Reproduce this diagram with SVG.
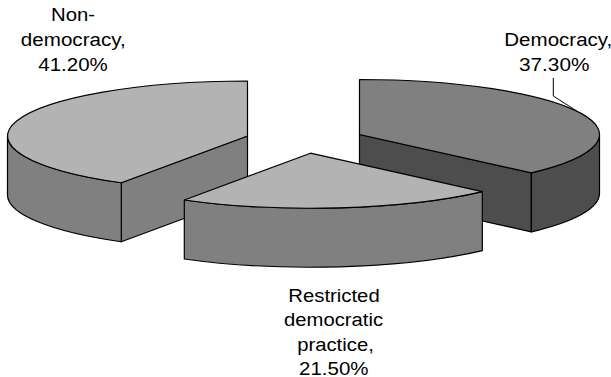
<svg xmlns="http://www.w3.org/2000/svg" width="611" height="377" viewBox="0 0 611 377">
  <style>
    .edge { stroke: #000; stroke-width: 1.2; stroke-linejoin: round; }
    .light { fill: #b3b3b3; }
    .mid { fill: #808080; }
    .dark { fill: #4d4d4d; }
    .lbl { font-family: "Liberation Sans", Arial, Helvetica, sans-serif; font-size: 18.8px; fill: #000; text-anchor: middle; }
    .leader { fill: none; stroke: #000; stroke-width: 1; }
  </style>
  <rect width="611" height="377" fill="#fff"/>

  <!-- Non-democracy slice: 41.2% (211.7deg .. 360deg) -->
  <g id="slice-nondemocracy">
    <path class="edge mid" d="M247.5,136 L121.31,182.78 L121.31,241.78 L247.5,195 Z"/>
    <path class="edge mid" d="M121.31,182.78 A240,55 0 0 1 7.5,136 L7.5,195 A240,55 0 0 0 121.31,241.78 Z"/>
    <path class="edge light" d="M247.5,136 L121.31,182.78 A240,55 0 0 1 247.5,81 Z"/>
    <text class="lbl" x="73" y="20.7" textLength="44" lengthAdjust="spacingAndGlyphs">Non-</text>
    <text class="lbl" x="73.3" y="45.7" textLength="104.9" lengthAdjust="spacingAndGlyphs">democracy,</text>
    <text class="lbl" x="73" y="70.7" textLength="69.5" lengthAdjust="spacingAndGlyphs">41.20%</text>
  </g>

  <!-- Democracy slice: 37.3% (0deg .. 134.3deg) -->
  <g id="slice-democracy">
    <path class="edge dark" d="M359.5,134.5 L531.34,172.9 L531.34,231.9 L359.5,193.5 Z"/>
    <path class="edge dark" d="M599.5,134.5 A240,55 0 0 1 531.34,172.9 L531.34,231.9 A240,55 0 0 0 599.5,193.5 Z"/>
    <path class="edge mid" d="M359.5,134.5 L359.5,79.5 A240,55 0 0 1 531.34,172.9 Z"/>
    <text class="lbl" x="558.3" y="45.7" textLength="108" lengthAdjust="spacingAndGlyphs">Democracy,</text>
    <text class="lbl" x="554.2" y="70.7" textLength="70.5" lengthAdjust="spacingAndGlyphs">37.30%</text>
  </g>

  <!-- Restricted democratic practice slice: 21.5% (134.3deg .. 211.7deg) -->
  <g id="slice-restricted">
    <path class="edge mid" d="M482.34,191.6 A240,55 0 0 1 184.31,199.98 L184.31,258.98 A240,55 0 0 0 482.34,250.6 Z"/>
    <path class="edge light" d="M310.5,153.2 L482.34,191.6 A240,55 0 0 1 184.31,199.98 Z"/>
    <text class="lbl" x="334" y="301.7" textLength="91.4" lengthAdjust="spacingAndGlyphs">Restricted</text>
    <text class="lbl" x="333.6" y="326.2" textLength="99" lengthAdjust="spacingAndGlyphs">democratic</text>
    <text class="lbl" x="335.5" y="350.7" textLength="76.7" lengthAdjust="spacingAndGlyphs">practice,</text>
    <text class="lbl" x="333.8" y="374.5" textLength="69.5" lengthAdjust="spacingAndGlyphs">21.50%</text>
  </g>

  <!-- leader line -->
  <g id="connectors">
    <polyline class="leader" points="553.3,78 553.3,96 577,111.2"/>
  </g>
</svg>
